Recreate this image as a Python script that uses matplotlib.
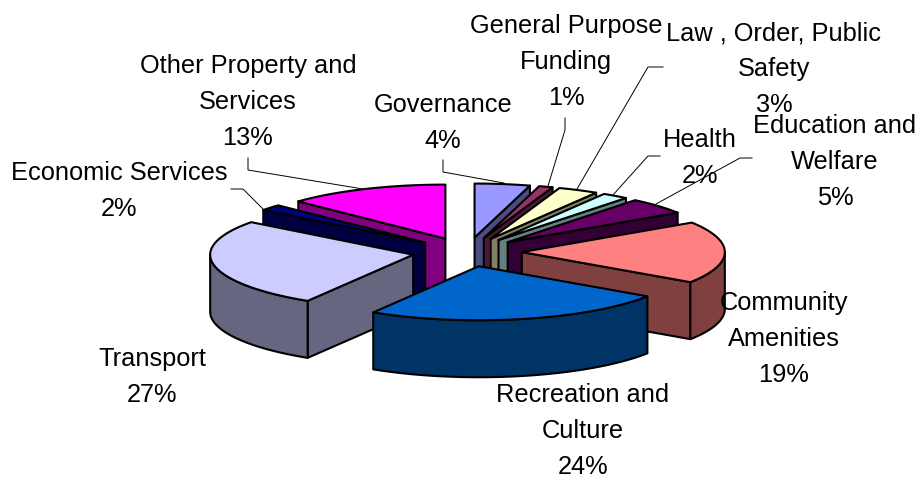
import numpy as np
import matplotlib
matplotlib.use('Agg')
import matplotlib.pyplot as plt
from matplotlib.patches import Polygon

plt.rcParams['font.family'] = ['Liberation Sans', 'DejaVu Sans']

# Datos
categorias = ['Governance', 'General Purpose\nFunding', 'Law , Order, Public\nSafety', 'Health',
              'Education and\nWelfare', 'Community\nAmenities', 'Recreation and\nCulture',
              'Transport', 'Economic Services', 'Other Property and\nServices']
valores = [4.4, 1.1, 3.2, 2.1, 5.0, 18.6, 24.3, 26.6, 1.8, 12.9]
colores = ['#9999FF', '#993366', '#FFFFCC', '#CCFFFF', '#660066',
           '#FF8080', '#0066CC', '#CCCCFF', '#000080', '#FF00FF']
oscuros = ['#4C4C80', '#4D1A33', '#808066', '#668080', '#330033',
           '#804040', '#003366', '#666680', '#000040', '#800080']

# Geometria del pastel en pixeles
CX, CY = 467, 252
RX, RY = 203, 54
ALTO = 57
EXPLOSION = 0.27
LW = 1.5

# Orden de pintado, de atras hacia adelante
orden = [9, 0, 1, 2, 3, 4, 8, 5, 7, 6]

# x, y del centro del texto
pos_texto = [(443, 123), (566, 62), (774, 69), (700, 158), (835, 162),
             (784, 339), (583, 431), (152, 377), (119, 191), (248, 102)]

lineas_guia = [
    [(443, 160), (443, 172), (504, 183)],
    [(565, 118), (565, 130), (548, 186)],
    [(663, 67), (648, 67), (577, 189)],
    [(660, 156), (648, 156), (613, 195)],
    [(752, 158), (740, 158), (656, 204)],
    [(231, 189), (243, 189), (263, 209)],
    [(248, 158), (248, 170), (363, 189)],
]

fig = plt.figure(figsize=(9.19, 4.79), dpi=100)
ax = fig.add_axes([0, 0, 1, 1])
ax.set_xlim(0, 919)
ax.set_ylim(479, 0)
ax.axis('off')


def borde(ox, oy, t):
    # t en radianes, sentido horario desde arriba
    return ox + RX * np.sin(t), oy - RY * np.cos(t)


total = sum(valores)
acumulado = np.cumsum([0] + valores) / total * 2 * np.pi

for i in orden:
    a0, a1 = acumulado[i], acumulado[i + 1]
    medio = (a0 + a1) / 2
    ox, oy = borde(CX, CY, medio)
    ox = CX + (ox - CX) * EXPLOSION
    oy = CY + (oy - CY) * EXPLOSION

    # caras radiales visibles
    for ang, visible in ((a0, np.sin(a0) < -1e-6), (a1, np.sin(a1) > 1e-6)):
        if visible:
            x, y = borde(ox, oy, ang)
            ax.add_patch(Polygon([(ox, oy), (x, y), (x, y + ALTO), (ox, oy + ALTO)],
                                 fc=oscuros[i], ec='black', lw=LW, joinstyle='round'))

    # pared exterior
    ini, fin = max(a0, np.pi / 2), min(a1, 3 * np.pi / 2)
    if fin > ini:
        t = np.linspace(ini, fin, 60)
        x, y = borde(ox, oy, t)
        pts = np.r_[np.c_[x, y], np.c_[x[::-1], y[::-1] + ALTO]]
        ax.add_patch(Polygon(pts, fc=oscuros[i], ec='black', lw=LW, joinstyle='round'))

    # cara superior
    t = np.linspace(a0, a1, 60)
    x, y = borde(ox, oy, t)
    pts = np.r_[[(ox, oy)], np.c_[x, y]]
    ax.add_patch(Polygon(pts, fc=colores[i], ec='black', lw=LW, joinstyle='round'))

for linea in lineas_guia:
    xs, ys = zip(*linea)
    ax.plot(xs, ys, color='black', lw=0.7, solid_joinstyle='miter')

for nombre, v, (x, y) in zip(categorias, valores, pos_texto):
    ax.text(x, y, f'{nombre}\n{v:.0f}%', ha='center', va='center', fontsize=18.3,
            linespacing=1.63, color='black')

fig.savefig('out.png', dpi=100)
